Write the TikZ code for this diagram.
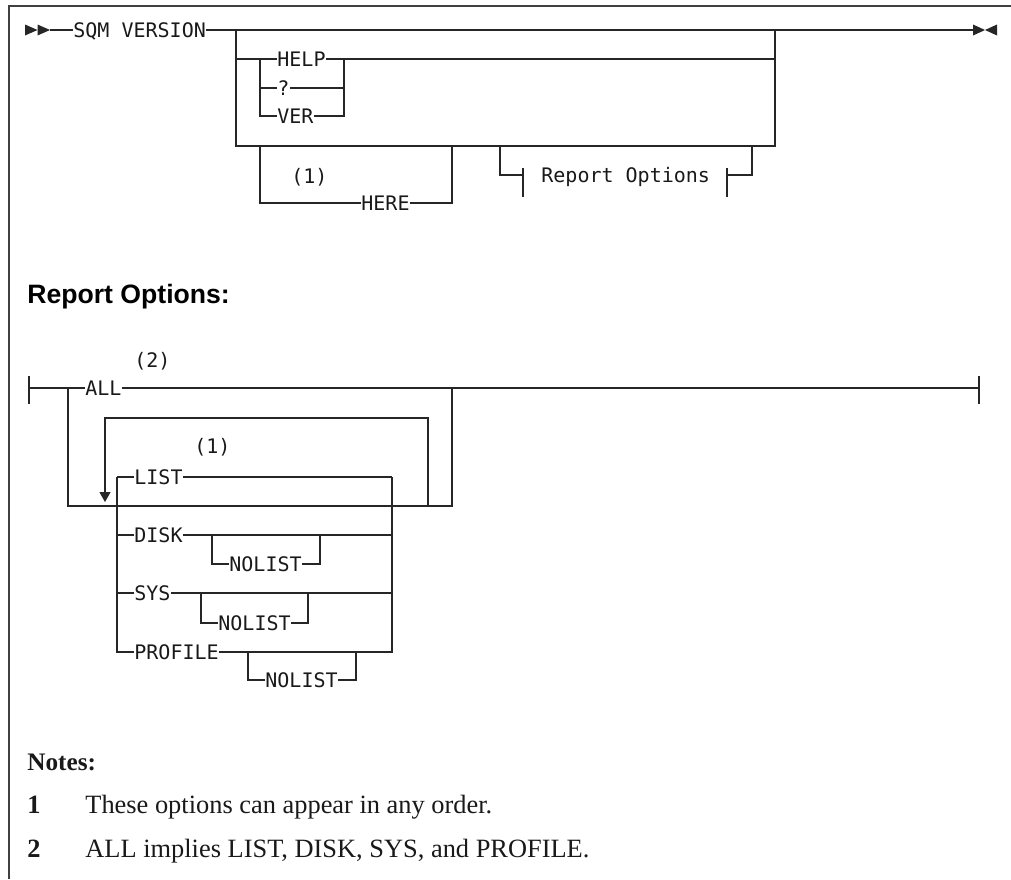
\documentclass[tikz,border=0pt]{standalone}
\usepackage{fontspec}
\setmainfont{Liberation Serif}
\newfontfamily\railfont{DejaVu Sans Mono}
\newfontfamily\headfont{Liberation Sans}
\usetikzlibrary{arrows.meta,positioning}

\begin{document}
\begin{tikzpicture}[
  x=0.5pt, y=-0.5pt,
  rail/.style={line width=0.6pt,draw=black!85},
  frame/.style={line width=0.8pt,draw=black!75},
  tip/.style={fill=black!85},
  kw/.style={font=\railfont\fontsize{10pt}{11pt}\selectfont,inner sep=0pt,
             text height=7.3pt,text depth=0pt,anchor=west,text=black!90},
  ref/.style={font=\railfont\fontsize{10pt}{11pt}\selectfont,inner sep=0pt,
              anchor=base west,text=black!90},
  head/.style={font=\headfont\bfseries\fontsize{13.3pt}{16pt}\selectfont,
               inner sep=0pt,anchor=base west},
  note/.style={font=\fontsize{13.2pt}{16pt}\selectfont,inner sep=0pt,
               anchor=base west,text=black!90}
]
\useasboundingbox (0,0) rectangle (1011,879);
\draw[frame] (9,879) -- (9,6) -- (1011,6);

% Main line.
\coordinate (go) at (50,30);
\coordinate (stop) at (973,30);
\node[kw] (sqm) at (73,30) {SQM VERSION};
\draw[rail] (go) -- (sqm.west);
\draw[rail] (sqm.east) -- (stop);
\fill[tip] (25,24.5) -- (37.5,30) -- (25,35.5) -- cycle;
\fill[tip] (37.5,24.5) -- (50,30) -- (37.5,35.5) -- cycle;
\fill[tip] (973,24.5) -- (985,30) -- (973,35.5) -- cycle;
\fill[tip] (997,24.5) -- (985,30) -- (997,35.5) -- cycle;

% Outer choice box.
\coordinate (bl) at (236,30);
\coordinate (br) at (775,30);
\coordinate (bbl) at (236,146);
\coordinate (bbr) at (775,146);
\draw[rail] (bl) -- (bbl) -- (bbr) -- (br);

% HELP / ? / VER.
\node[kw] (help) at (277,59) {HELP};
\node[kw] (qm)   at (277,88) {?};
\node[kw] (ver)  at (277,116) {VER};
\coordinate (cl) at (260,59);
\coordinate (cr) at (344,59);
\draw[rail] (bl |- help) -- (help.west);
\draw[rail] (help.east) -- (br |- help);
\draw[rail] (cl) |- (qm.west);
\draw[rail] (cl) |- (ver.west);
\draw[rail] (qm.east) -| (cr);
\draw[rail] (ver.east) -| (cr);

% Optional HERE.
\node[kw] (here) at (361,203) {HERE};
\node[ref] (n1a) at (291,183) {(1)};
\coordinate (hl) at (260,146);
\coordinate (hr) at (452,146);
\draw[rail] (hl) |- (here.west);
\draw[rail] (here.east) -| (hr);

% Fragment reference.
\node[kw] (frag) at (541,175) {Report Options};
\coordinate (fl) at (500,146);
\coordinate (fr) at (752,146);
\coordinate (tl) at (523,175);
\coordinate (tr) at (727,175);
\draw[rail] (fl) |- (tl);
\draw[rail] (tr) -| (fr);
\draw[rail] (tl) ++(0,-7) -- ++(0,29);
\draw[rail] (tr) ++(0,-7) -- ++(0,29);

% Report Options fragment.
\node[head] (ropt) at (27,303) {Report Options:};
\coordinate (rs) at (29,388);
\coordinate (re) at (979,388);
\node[kw] (all) at (85,388) {ALL};
\node[ref] (n2) at (134,367) {(2)};
\draw[rail] (rs) -- (all.west);
\draw[rail] (all.east) -- (re);
\draw[rail] (rs) ++(0,-12) -- ++(0,28);
\draw[rail] (re) ++(0,-12) -- ++(0,28);

\coordinate (ol) at (68,388);
\coordinate (or) at (452,388);
\coordinate (obl) at (68,506);
\coordinate (obr) at (452,506);
\draw[rail] (ol) -- (obl) -- (obr) -- (or);

% Repeat loop.
\coordinate (lt) at (105,418);
\coordinate (lr) at (428,418);
\coordinate (ld) at (105,502);
\draw[rail,-{Triangle[length=5pt,width=5.5pt]}] (lr |- obl) -- (lr) -- (lt) -- (ld);

% LIST / DISK / SYS / PROFILE.
\node[ref] (n1b) at (194,453) {(1)};
\node[kw] (list) at (134,477) {LIST};
\node[kw] (disk) at (134,535) {DISK};
\node[kw] (sys)  at (134,593) {SYS};
\node[kw] (prof) at (134,652) {PROFILE};
\coordinate (kl) at (117,477);
\coordinate (kr) at (392,477);
\draw[rail] (kl) -- (list.west);
\draw[rail] (list.east) -- (kr);
\draw[rail] (kl) |- (prof.west);
\draw[rail] (kr) |- (prof.east);
\draw[rail] (kl |- disk) -- (disk.west);
\draw[rail] (disk.east) -- (kr |- disk);
\draw[rail] (kl |- sys) -- (sys.west);
\draw[rail] (sys.east) -- (kr |- sys);

% Optional NOLIST under each.
\foreach \r/\y/\a/\b/\c in {disk/535/212/564/320,sys/593/201/623/308,prof/652/248/680/356}{
  \node[kw] (nl-\r) at (\a+17,\b) {NOLIST};
  \draw[rail] (\a,\y) |- (nl-\r.west);
  \draw[rail] (nl-\r.east) -| (\c,\y);
}

% Notes.
\node[note,font=\bfseries\fontsize{12.6pt}{16pt}\selectfont] (notes) at (27,770) {Notes:};
\node[note,font=\bfseries\fontsize{13.2pt}{16pt}\selectfont] (k1) at (27,813) {1};
\node[note] (t1) at (85,813) {These options can appear in any order.};
\node[note,font=\bfseries\fontsize{13.2pt}{16pt}\selectfont] (k2) at (27,857) {2};
\node[note] (t2) at (85,857) {ALL implies LIST, DISK, SYS, and PROFILE.};
\end{tikzpicture}
\end{document}
